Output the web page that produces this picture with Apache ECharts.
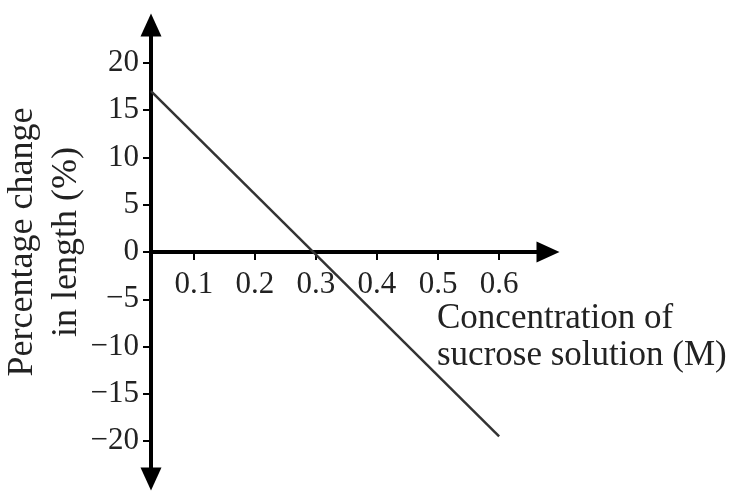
<!DOCTYPE html>
<html>
<head>
<meta charset="utf-8">
<style>
  html, body { margin: 0; padding: 0; background: #fff; }
  #chart { width: 731px; height: 494px; }
</style>
<script src="https://cdn.jsdelivr.net/npm/echarts@6/dist/echarts.min.js"></script>
</head>
<body>
<div id="chart"></div>
<script>
// Sucrose concentration (M) vs. percentage change in length (%)
const concentration = [0.03, 0.6];
const lengthChange = [17, -19.5];
const xTicks = [0.1, 0.2, 0.3, 0.4, 0.5, 0.6];
const yTicks = [-20, -15, -10, -5, 0, 5, 10, 15, 20];

const serif = '"Liberation Serif", "DejaVu Serif", serif';
const chart = echarts.init(document.getElementById('chart'));

// plot area: y runs -24..24 over 454px, so y = 0 sits 227px above the bottom edge
const gridTop = 25, gridHeight = 454;
const yMin = -24, yMax = 24;
const zeroOffset = -gridHeight * (0 - yMin) / (yMax - yMin);

chart.setOption({
  animation: false,
  grid: {
    left: 151, top: gridTop, width: 397, height: gridHeight,
    containLabel: false, outerBoundsMode: 'none'
  },
  xAxis: {
    type: 'value',
    min: 0.03,
    max: 0.68,
    position: 'bottom',
    offset: zeroOffset,
    splitLine: { show: false },
    axisLine: {
      onZero: false,
      lineStyle: { color: '#000', width: 4 },
      symbol: ['none', 'triangle'],
      symbolSize: [21, 23]
    },
    axisTick: {
      customValues: xTicks,
      length: 8,
      lineStyle: { color: '#000', width: 2 }
    },
    axisLabel: {
      customValues: xTicks,
      margin: 17,
      fontFamily: serif,
      fontSize: 31,
      color: '#222',
      formatter: v => v.toFixed(1)
    },
    name: 'Concentration of\nsucrose solution (M)',
    nameLocation: 'end',
    nameGap: -111,
    nameMoveOverlap: false,
    nameTextStyle: {
      fontFamily: serif,
      fontSize: 35,
      color: '#222',
      align: 'left',
      verticalAlign: 'top',
      lineHeight: 37,
      padding: [48, 0, 0, 0]
    }
  },
  yAxis: {
    type: 'value',
    min: yMin,
    max: yMax,
    splitLine: { show: false },
    axisLine: {
      onZero: false,
      lineStyle: { color: '#000', width: 4 },
      symbol: ['triangle', 'triangle'],
      symbolSize: [21, 23]
    },
    axisTick: {
      customValues: yTicks,
      length: 8,
      lineStyle: { color: '#000', width: 2 }
    },
    axisLabel: {
      customValues: yTicks,
      margin: 12,
      fontFamily: serif,
      fontSize: 31,
      color: '#222',
      formatter: v => String(v).replace('-', '\u2212')
    },
    name: 'Percentage change\nin length (%)',
    nameLocation: 'middle',
    nameGap: 62,
    nameMoveOverlap: false,
    nameTextStyle: {
      fontFamily: serif,
      fontSize: 36,
      color: '#222',
      lineHeight: 44,
      padding: [0, 0, 0, 20]
    }
  },
  series: [{
    type: 'line',
    data: concentration.map((x, i) => [x, lengthChange[i]]),
    symbol: 'none',
    lineStyle: { color: '#333', width: 2.5 }
  }]
});
</script>
</body>
</html>
